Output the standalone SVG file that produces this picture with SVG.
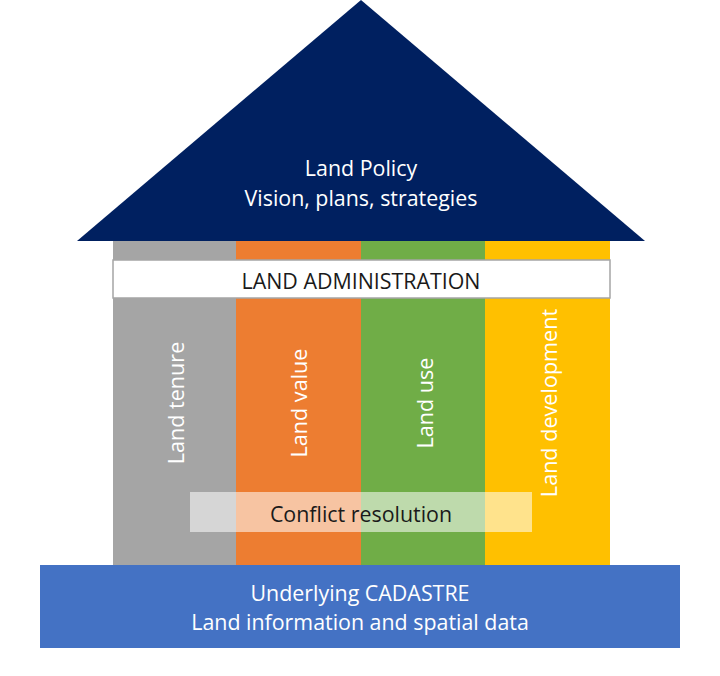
<svg xmlns="http://www.w3.org/2000/svg" width="720" height="676" viewBox="0 0 720 676">
<style>
text{font-family:"Open Sans","Liberation Sans",Arial,sans-serif;font-size:21.4px;text-anchor:middle;dominant-baseline:central}
.w{fill:#ffffff}
.d{fill:#1a1a1a}
.v{font-size:21.6px}
</style>
<rect width="720" height="676" fill="#ffffff"/>
<g id="roof">
<polygon points="361,0 77,241 645,241" fill="#002060"/>
<text class="w" x="361" y="167">Land Policy</text>
<text class="w" x="361" y="197">Vision, plans, strategies</text>
</g>
<g id="pillar-tenure">
<rect x="113" y="241" width="123" height="324" fill="#A5A5A5"/>
<text class="w v" transform="translate(175,403) rotate(-90)">Land tenure</text>
</g>
<g id="pillar-value">
<rect x="236" y="241" width="125" height="324" fill="#ED7D31"/>
<text class="w v" transform="translate(298,403) rotate(-90)">Land value</text>
</g>
<g id="pillar-use">
<rect x="361" y="241" width="124" height="324" fill="#70AD47"/>
<text class="w v" transform="translate(424,403) rotate(-90)">Land use</text>
</g>
<g id="pillar-development">
<rect x="485" y="241" width="125" height="324" fill="#FFC000"/>
<text class="w v" transform="translate(548,403) rotate(-90)">Land development</text>
</g>
<g id="land-administration">
<rect x="113" y="260" width="497" height="38" fill="#ffffff" stroke="#A5A5A5" stroke-width="1.5"/>
<text class="d" x="361" y="280">LAND ADMINISTRATION</text>
</g>
<g id="conflict-resolution">
<rect x="190" y="492" width="342" height="40" fill="#ffffff" fill-opacity="0.55"/>
<text class="d" x="361" y="513">Conflict resolution</text>
</g>
<g id="cadastre">
<rect x="40" y="565" width="640" height="83" fill="#4472C4"/>
<text class="w" x="360" y="592">Underlying CADASTRE</text>
<text class="w" x="360" y="621">Land information and spatial data</text>
</g>
<g id="connectors"/>
</svg>
